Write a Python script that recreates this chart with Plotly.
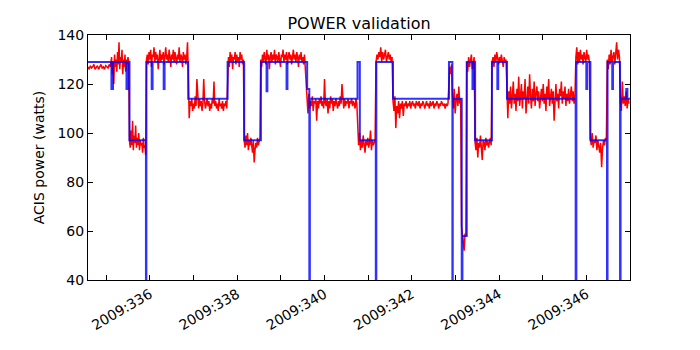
import numpy as np
import plotly.graph_objects as go

# Blue: commanded/model power (step function), day-of-year 2009
blue_t = [334.58, 335.117, 335.153, 335.462, 335.49, 335.531, 335.908, 335.918, 336.039, 336.06,
          336.314, 336.335, 336.877, 337.779, 338.159, 338.542, 338.672, 338.69, 339.130, 339.15,
          339.602, 339.652, 339.664, 340.756, 340.809, 341.175, 341.187, 341.569, 342.852, 342.930,
          342.938, 343.144, 343.160, 343.259, 343.390, 343.41, 343.451, 343.836, 343.960, 343.98,
          344.182, 345.755, 345.771, 345.999, 346.02, 346.092, 346.473, 346.485, 346.593, 346.61,
          346.772, 346.784, 346.915, 346.94, 347.0]
blue_v = [129, 118, 129, 118, 129, 97, 0, 129, 118, 129,
          118, 129, 114, 129, 97, 129, 117, 129, 118, 129,
          118, 0, 114, 129, 97, 0, 129, 114, 129, 0,
          114, 0, 58, 129, 118, 129, 97, 129, 118, 129,
          114, 0, 129, 118, 129, 97, 0, 129, 118, 129,
          0, 114, 118, 114, 114]

# Red: telemetry, per segment (start day, end day, values)
red_segments = [
    (334.58, 335.12, [127, 126, 127.5, 126.5, 127, 128, 126, 127, 127.5, 126, 127, 128, 126.5, 127,
                      126, 127.5, 127, 126.5, 128, 127]),
    (335.12, 335.53, [131, 124, 129, 120, 132, 127, 130, 125, 133, 128, 137, 126, 131, 129, 134, 124,
                      130, 127, 132, 125, 130, 128, 131, 129]),
    (335.53, 335.92, [97, 94, 101, 95, 105, 93, 99, 96, 103, 94, 98, 95, 100, 93, 97, 95, 96, 92, 98,
                      94, 95, 91]),
    (335.92, 336.88, [130, 132, 128, 133, 130, 134, 127, 132, 131, 135, 129, 133, 130, 132, 126, 131,
                      134, 129, 132, 130, 133, 128, 131, 135, 130, 132, 129, 134, 131, 127, 132, 130,
                      134, 129, 133, 131, 128, 132, 130, 135, 129, 132, 131, 127, 133, 130, 132, 128,
                      131, 137]),
    (336.88, 337.78, [110, 106, 113, 111, 114, 109, 112, 110, 115, 111, 122, 112, 110, 114, 111, 113,
                      109, 112, 122, 113, 110, 112, 114, 111, 113, 109, 112, 110, 114, 112, 121, 111,
                      113, 110, 112, 109, 114, 111, 112, 110, 113, 109, 112, 111, 113, 110]),
    (337.78, 338.16, [128, 131, 127, 133, 129, 132, 126, 131, 130, 133, 128, 132, 129, 131, 127, 133,
                      130, 132, 128, 130]),
    (338.16, 338.54, [97, 94, 99, 95, 100, 93, 97, 95, 98, 94, 92, 97, 88, 93, 96, 94, 98, 95, 97, 98]),
    (338.54, 339.60, [130, 127, 132, 129, 133, 131, 128, 134, 130, 132, 126, 131, 133, 129, 132, 130,
                      134, 128, 132, 131, 129, 133, 130, 127, 132, 131, 134, 129, 132, 130, 133, 128,
                      131, 133, 130, 132, 128, 131, 134, 130, 132, 129, 133, 131, 127, 132, 130, 133,
                      129, 131, 128, 132, 126, 125]),
    (339.60, 340.76, [114, 108, 116, 110, 113, 111, 115, 109, 113, 112, 114, 105, 113, 110, 114, 112,
                      115, 111, 113, 110, 122, 112, 111, 114, 108, 113, 110, 115, 112, 114, 109, 113,
                      111, 114, 112, 110, 113, 111, 115, 112, 120, 112, 110, 114, 111, 113, 112, 114,
                      110, 113, 112, 114, 111, 113, 112, 110, 114, 112]),
    (340.76, 341.18, [98, 95, 100, 93, 97, 94, 99, 96, 92, 97, 95, 98, 94, 96, 101, 93, 97, 95, 96, 97]),
    (341.18, 341.57, [129, 132, 130, 133, 131, 135, 129, 133, 130, 132, 134, 129, 131, 133, 130, 132,
                      129, 131]),
    (341.57, 342.85, [113, 109, 115, 102, 111, 108, 113, 106, 112, 110, 113, 107, 112, 111, 113, 110,
                      112, 111, 113, 110, 112, 113, 111, 112, 110, 113, 112, 111, 113, 110, 112, 111,
                      113, 112, 110, 112, 113, 111, 112, 110, 113, 111, 112, 113, 110, 112, 111, 113,
                      112, 110, 112, 111, 113, 112, 111, 112, 110, 112, 111, 112]),
    (342.85, 342.93, [122, 127, 124, 128]),
    (342.93, 343.14, [115, 110, 118, 108, 113, 116, 111, 119, 112, 114]),
    (343.14, 343.26, [62, 57, 55, 52, 59, 58]),
    (343.26, 343.45, [129, 125, 131, 127, 130, 132, 126, 129, 131]),
    (343.45, 343.84, [96, 93, 98, 90, 96, 94, 99, 95, 89, 97, 96, 93, 98, 95, 97, 94, 96, 98, 95]),
    (343.84, 344.18, [129, 131, 127, 132, 129, 133, 130, 128, 131, 129, 132, 130, 127, 131, 129, 130]),
    (344.18, 345.76, [113, 106, 117, 112, 119, 110, 115, 121, 112, 116, 109, 118, 113, 123, 111, 116,
                      120, 110, 117, 114, 122, 108, 116, 119, 112, 124, 115, 110, 118, 113, 121, 111,
                      116, 119, 113, 117, 110, 115, 118, 113, 120, 112, 116, 109, 119, 114, 122, 111,
                      115, 118, 112, 117, 105, 114, 120, 113, 116, 110, 118, 115, 121, 112, 117, 114,
                      119, 111, 116, 113, 118, 112, 115, 119, 113, 117, 112, 115]),
    (345.76, 346.09, [131, 135, 128, 133, 129, 134, 130, 132, 128, 133, 131, 129, 134, 130, 132, 129]),
    (346.09, 346.48, [98, 95, 100, 94, 97, 96, 99, 93, 97, 95, 92, 96, 86, 94, 97, 95, 98, 97]),
    (346.48, 346.78, [130, 126, 132, 128, 134, 129, 131, 133, 128, 132, 137, 130, 134, 131]),
    (346.78, 347.0, [113, 109, 121, 112, 115, 111, 117, 110, 114, 112]),
]

x_tick_days = [335, 336, 337, 338, 339, 340, 341, 342, 343, 344, 345, 346]
x_tick_text = ["" if d % 2 else f"2009:{d}" for d in x_tick_days]
y_ticks = [40, 60, 80, 100, 120, 140]

red_t, red_v = [], []
for t0, t1, vals in red_segments:
    ts = np.linspace(t0, t1, len(vals), endpoint=False)
    red_t.extend(ts.tolist())
    red_v.extend(vals)

fig = go.Figure()
fig.add_trace(go.Scatter(x=red_t, y=red_v, mode="lines",
                         line=dict(color="#ff0000", width=1.5), hoverinfo="skip"))
fig.add_trace(go.Scatter(x=blue_t, y=blue_v, mode="lines", line_shape="hv",
                         line=dict(color="#0000ff", width=2), opacity=0.8, hoverinfo="skip"))

font = "DejaVu Sans, Arial, sans-serif"
fig.update_layout(
    width=700, height=350,
    margin=dict(l=80, r=78, t=27, b=78),
    paper_bgcolor="white", plot_bgcolor="white",
    showlegend=False,
    font=dict(family=font, size=14, color="black"),
    title=dict(text="POWER validation", x=0.5, xref="paper", y=1 - 15 / 350,
               yref="container", yanchor="middle", xanchor="center",
               font=dict(family=font, size=16, color="black")),
)
fig.update_xaxes(range=[334.58, 347.0], tickmode="array", tickvals=x_tick_days,
                 ticktext=x_tick_text, tickangle=-30, ticks="inside", ticklen=5,
                 tickcolor="black", showline=True, linecolor="black", linewidth=1,
                 mirror="ticks", showgrid=False, zeroline=False, automargin=False,
                 tickfont=dict(family=font, size=14, color="black"))
fig.update_yaxes(range=[40, 140], tickmode="array", tickvals=y_ticks,
                 ticks="inside", ticklen=5, tickcolor="black", showline=True,
                 linecolor="black", linewidth=1, mirror="ticks", showgrid=False,
                 zeroline=False, automargin=False,
                 tickfont=dict(family=font, size=14, color="black"),
                 title=dict(text="ACIS power (watts)", standoff=9,
                            font=dict(family=font, size=14, color="black")))

fig.write_html("out.html")
